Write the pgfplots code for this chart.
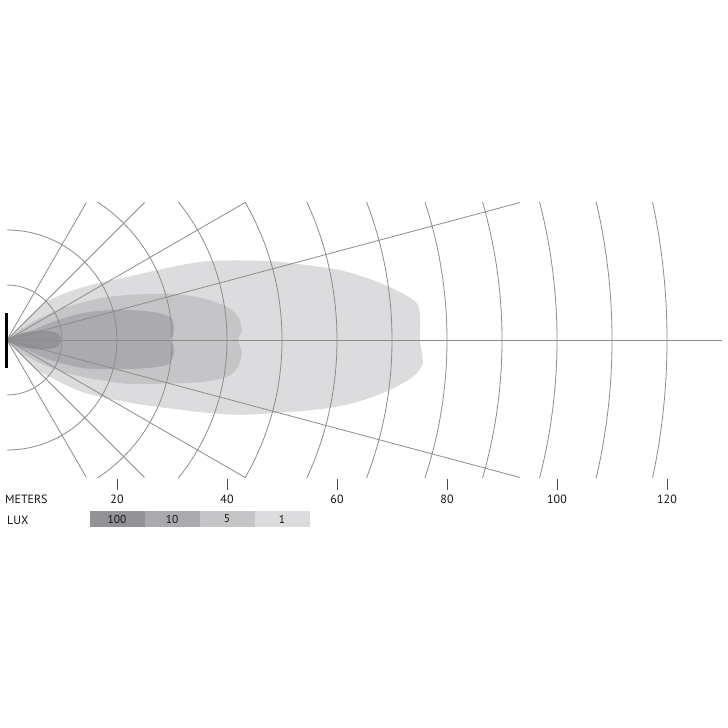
\documentclass[border=0pt]{standalone}
\usepackage{fontspec}
\setmainfont{PT Sans}
\usepackage{pgfplots}
\pgfplotsset{compat=1.18}
\definecolor{luxA}{HTML}{939397}
\definecolor{luxB}{HTML}{ABABAF}
\definecolor{luxC}{HTML}{C5C5C7}
\definecolor{luxD}{HTML}{DCDCDE}
\definecolor{gridc}{HTML}{8C8C8C}
\definecolor{txt}{HTML}{151515}

\begin{document}
\begin{tikzpicture}
\begin{axis}[
    width=728bp, height=728bp, scale only axis,
    xmin=-1.2727, xmax=131.0909,
    ymin=-70.5455, ymax=61.8182,
    hide axis, clip=false,
    font=\fontsize{12}{14}\selectfont,
]
\fill[white] (rel axis cs:0,0) rectangle (rel axis cs:1,1);

% 1 lux
\addplot[fill=luxD, draw=none, smooth, tension=0.5] coordinates {
 (0,0) (4.7,4.9) (7.8,7.3) (13.8,9.6) (22.4,11.6) (35.1,14.2) (46,14.4)
 (51.5,14.0) (60.5,12.7) (66.5,10.9) (71.5,8.7) (74.5,6.7) (75.1,4.2)
 (75.1,0) (75.6,-3.6) (75.4,-4.8) (73.8,-6.7) (69.6,-9.1) (63.6,-11.3)
 (57.5,-12.5) (48.4,-13.3) (42.4,-13.6) (35.1,-13.1) (22.9,-11.5)
 (13.8,-9.5) (7.8,-6.7) (4.7,-4.9) (0,0)
};
% 5 lux
\addplot[fill=luxC, draw=none, smooth, tension=0.5] coordinates {
 (0,0) (2.4,1.8) (6.0,4.0) (10.9,6.0) (16.9,7.6) (22.4,8.2) (29.6,8.4)
 (35.6,7.6) (40,6.0) (42,4.2) (42.7,1.8) (42,0) (42.7,-2.2) (42,-4.9)
 (40,-6.7) (35.6,-7.6) (29.6,-7.9) (22.4,-8.0) (16.9,-7.3) (10.9,-6.0)
 (6.0,-4.2) (2.4,-2.2) (0,0)
};
% 10 lux
\addplot[fill=luxB, draw=none, smooth, tension=0.5] coordinates {
 (0,0) (3.6,1.3) (7.8,3.1) (13.8,4.9) (20.5,5.5) (26.5,5.1) (29.6,4.2)
 (30.4,2.7) (30.2,0.9) (29.6,0) (30.4,-1.3) (30.2,-3.1) (29.1,-4.5)
 (25.5,-5.1) (20.5,-5.3) (13.8,-5.1) (7.8,-3.6) (3.6,-1.8) (0,0)
};
% 100 lux
\addplot[fill=luxA, draw=none, smooth, tension=0.5] coordinates {
 (0,0) (2,1.0) (4,1.5) (6,1.7) (8,1.6) (9.3,1.1) (9.9,0)
 (9.3,-1.1) (8,-1.6) (6,-1.7) (4,-1.5) (2,-1.0) (0,0)
};

% arcs, every 10 m, kept inside |y| <= 25
\begin{scope}
\clip (axis cs:0,-25) rectangle (axis cs:130,25);
\pgfplotsinvokeforeach{10,20,30,40,50,60,70,80,90,100,110,120}{
  \draw[gridc, line width=0.8bp] (axis cs:0,0) circle[radius=#1];
}
\end{scope}

% rays
\addplot[gridc, line width=0.8bp] coordinates {(0,0) (130,0)};
\addplot[gridc, line width=0.8bp] coordinates {(93.30,25) (0,0) (93.30,-25)};
\addplot[gridc, line width=0.8bp] coordinates {(43.30,25) (0,0) (43.30,-25)};
\addplot[gridc, line width=0.8bp] coordinates {(25,25) (0,0) (25,-25)};
\addplot[gridc, line width=0.8bp] coordinates {(14.43,25) (0,0) (14.43,-25)};

% lamp
\addplot[fill=black, draw=none] coordinates {(-0.36,4.9) (0.18,4.9) (0.18,-5.1) (-0.36,-5.1)};

% meter ticks
\pgfplotsinvokeforeach{20,40,60,80,100,120}{
  \draw[black!70, line width=0.8bp] (axis cs:#1,-25.2) -- (axis cs:#1,-27.3);
  \node[txt, anchor=base] at (axis cs:#1,-29.8) {#1};
}
\node[txt, anchor=base west, inner sep=0pt] at (axis cs:-0.36,-29.8) {METERS};
\node[txt, anchor=base west, inner sep=0pt] at (axis cs:0,-33.6) {LUX};

% lux key
\addplot[fill=luxA, draw=none] coordinates {(15,-31.1) (25,-31.1) (25,-34) (15,-34)};
\addplot[fill=luxB, draw=none] coordinates {(25,-31.1) (35,-31.1) (35,-34) (25,-34)};
\addplot[fill=luxC, draw=none] coordinates {(35,-31.1) (45,-31.1) (45,-34) (35,-34)};
\addplot[fill=luxD, draw=none] coordinates {(45,-31.1) (55,-31.1) (55,-34) (45,-34)};
\node[txt, font=\fontsize{11.5}{13}\selectfont] at (axis cs:20,-32.55) {100};
\node[txt, font=\fontsize{11.5}{13}\selectfont] at (axis cs:30,-32.55) {10};
\node[txt, font=\fontsize{11.5}{13}\selectfont] at (axis cs:40,-32.55) {5};
\node[txt, font=\fontsize{11.5}{13}\selectfont] at (axis cs:50,-32.55) {1};
\end{axis}
\end{tikzpicture}
\end{document}
